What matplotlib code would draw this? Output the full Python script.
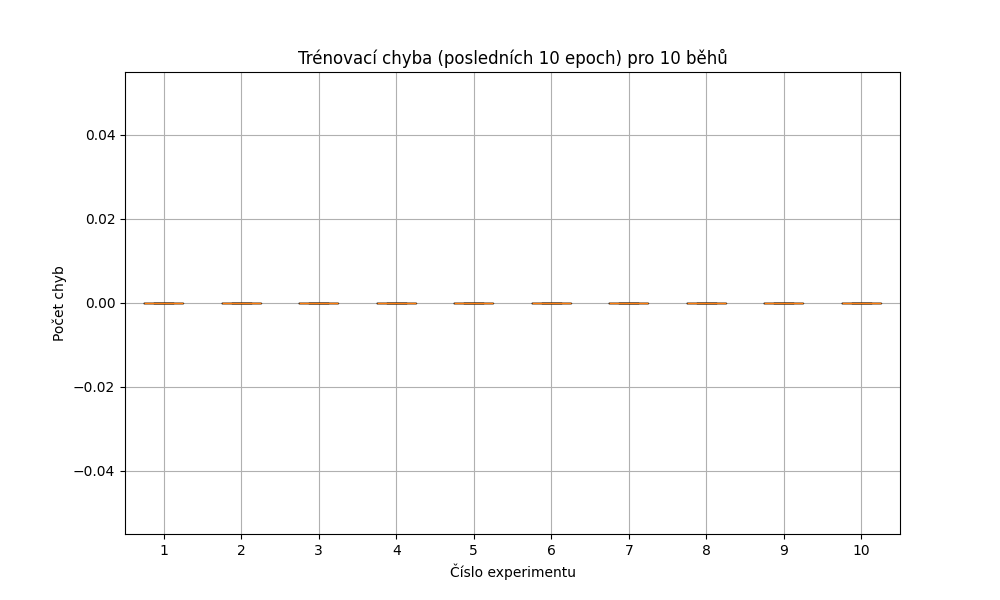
import matplotlib
matplotlib.use("Agg")
import matplotlib.pyplot as plt

# errors over the last 10 epochs for each of 10 runs (all zero)
run_1 = [0, 0, 0, 0, 0, 0, 0, 0, 0, 0]
run_2 = [0, 0, 0, 0, 0, 0, 0, 0, 0, 0]
run_3 = [0, 0, 0, 0, 0, 0, 0, 0, 0, 0]
run_4 = [0, 0, 0, 0, 0, 0, 0, 0, 0, 0]
run_5 = [0, 0, 0, 0, 0, 0, 0, 0, 0, 0]
run_6 = [0, 0, 0, 0, 0, 0, 0, 0, 0, 0]
run_7 = [0, 0, 0, 0, 0, 0, 0, 0, 0, 0]
run_8 = [0, 0, 0, 0, 0, 0, 0, 0, 0, 0]
run_9 = [0, 0, 0, 0, 0, 0, 0, 0, 0, 0]
run_10 = [0, 0, 0, 0, 0, 0, 0, 0, 0, 0]
runs = [run_1, run_2, run_3, run_4, run_5, run_6, run_7, run_8, run_9, run_10]
labels = ["1", "2", "3", "4", "5", "6", "7", "8", "9", "10"]

fig, ax = plt.subplots(figsize=(10, 6), dpi=100)
ax.boxplot(runs, tick_labels=labels)
ax.set_title("Trénovací chyba (posledních 10 epoch) pro 10 běhů")
ax.set_xlabel("Číslo experimentu")
ax.set_ylabel("Počet chyb")
ax.grid(True)
fig.savefig("out.png")
